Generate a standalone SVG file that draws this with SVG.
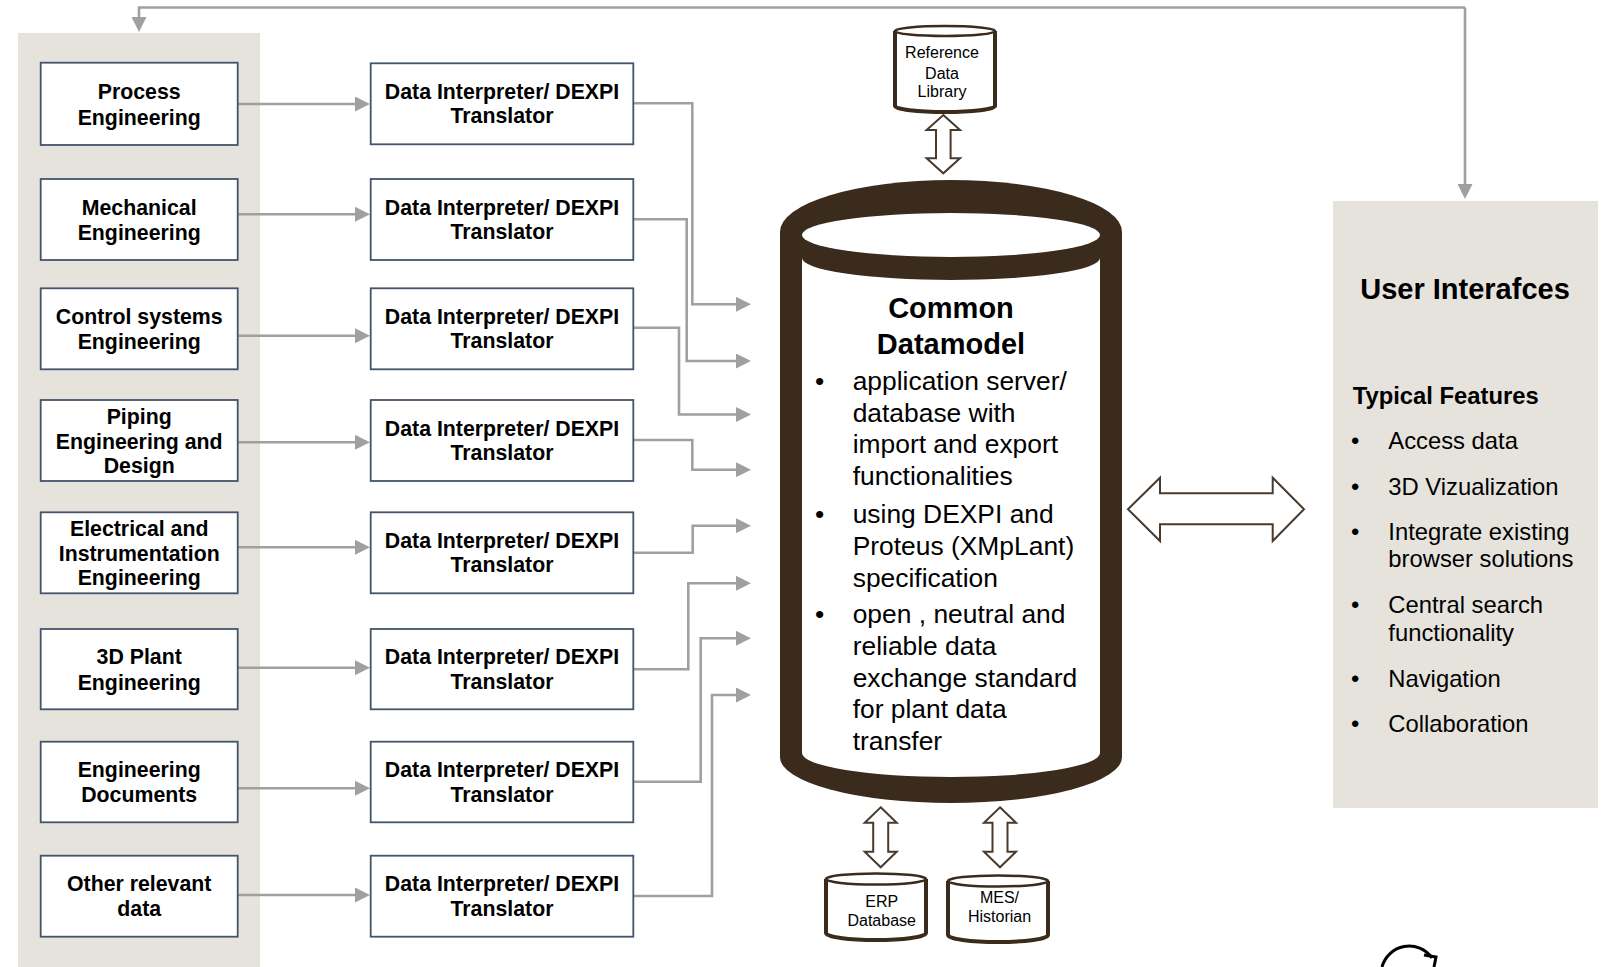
<svg xmlns="http://www.w3.org/2000/svg" width="1601" height="967" viewBox="0 0 1601 967">
<style>
.panel{fill:#e6e3dd}
.box{fill:#fff;stroke:#44546a;stroke-width:1.8}
.lbl{font-family:"Liberation Sans",Arial,sans-serif;font-weight:bold;font-size:21.3px;fill:#000;text-anchor:middle}
.con{fill:none;stroke:#a0a0a0;stroke-width:2.6}
.dbl{fill:#fff;stroke:#4a3a2c;stroke-width:2}
.cyl{fill:#fff;stroke:#3b2b1d;stroke-width:4}
.cyltop{fill:#fff;stroke:#3b2b1d;stroke-width:2.5}
.small{font-family:"Liberation Sans",Arial,sans-serif;font-size:16px;fill:#000;text-anchor:middle}
.body{font-family:"Liberation Sans",Arial,sans-serif;font-size:26.4px;fill:#000}
.ui{font-family:"Liberation Sans",Arial,sans-serif;font-size:23.8px;fill:#000}
</style>
<defs>
<marker id="ah" markerUnits="userSpaceOnUse" markerWidth="15" markerHeight="15" refX="7" refY="7.5" orient="auto">
<path d="M0,0 L15,7.5 L0,15 Z" fill="#a0a0a0"/>
</marker>
</defs>
<rect width="1601" height="967" fill="#fff"/>
<rect class="panel" x="18" y="33" width="242" height="934"/>
<rect class="panel" x="1333" y="201" width="265" height="607"/>

<g id="connectors">
<path class="con" d="M1465,7.5 L139,7.5 L139,24" marker-end="url(#ah)"/>
<path class="con" d="M1465,7.5 L1465,191" marker-end="url(#ah)"/>
<path class="con" d="M238,104 L362,104" marker-end="url(#ah)"/>
<path class="con" d="M238,214.3 L362,214.3" marker-end="url(#ah)"/>
<path class="con" d="M238,335.7 L362,335.7" marker-end="url(#ah)"/>
<path class="con" d="M238,442.3 L362,442.3" marker-end="url(#ah)"/>
<path class="con" d="M238,547.3 L362,547.3" marker-end="url(#ah)"/>
<path class="con" d="M238,667.7 L362,667.7" marker-end="url(#ah)"/>
<path class="con" d="M238,788.3 L362,788.3" marker-end="url(#ah)"/>
<path class="con" d="M238,895 L362,895" marker-end="url(#ah)"/>
<path class="con" d="M633,103.3 L692.3,103.3 L692.3,304.3 L743,304.3" marker-end="url(#ah)"/>
<path class="con" d="M633,219.3 L686.7,219.3 L686.7,361 L743,361" marker-end="url(#ah)"/>
<path class="con" d="M633,327.7 L679,327.7 L679,414.5 L743,414.5" marker-end="url(#ah)"/>
<path class="con" d="M633,440 L692.3,440 L692.3,469.7 L743,469.7" marker-end="url(#ah)"/>
<path class="con" d="M633,552.7 L692.7,552.7 L692.7,525.7 L743,525.7" marker-end="url(#ah)"/>
<path class="con" d="M633,669.3 L688.3,669.3 L688.3,583.3 L743,583.3" marker-end="url(#ah)"/>
<path class="con" d="M633,781.7 L700.7,781.7 L700.7,638.3 L743,638.3" marker-end="url(#ah)"/>
<path class="con" d="M633,896 L712,896 L712,695 L743,695" marker-end="url(#ah)"/>
<path id="ui-arrow" class="dbl" d="M1128,509.3 L1160,477.7 L1160,493.3 L1272.7,493.3 L1272.7,477.7 L1304,509.3 L1272.7,541 L1272.7,524.3 L1160,524.3 L1160,541 Z"/>
<path id="rdl-arrow" class="dbl" d="M943.3,115 L960,130 L950.6,130 L950.6,158.3 L960,158.3 L943.3,173.3 L926.6,158.3 L936,158.3 L936,130 L926.6,130 Z"/>
<path id="erp-arrow" class="dbl" d="M880.7,807.3 L896.7,822.7 L888.2,822.7 L888.2,851.7 L896.7,851.7 L880.7,867.3 L864.7,851.7 L873.2,851.7 L873.2,822.7 L864.7,822.7 Z"/>
<path id="mes-arrow" class="dbl" d="M1000,807.3 L1016,822.7 L1007.5,822.7 L1007.5,851.7 L1016,851.7 L1000,867.3 L984,851.7 L992.5,851.7 L992.5,822.7 L984,822.7 Z"/>
</g>

<g id="src1"><rect class="box" x="40.7" y="62.7" width="197" height="82.3"/><text class="lbl" x="139.2" y="99">Process</text><text class="lbl" x="139.2" y="124.5">Engineering</text></g>
<g id="src2"><rect class="box" x="40.7" y="179" width="197" height="81"/><text class="lbl" x="139.2" y="214.5">Mechanical</text><text class="lbl" x="139.2" y="240">Engineering</text></g>
<g id="src3"><rect class="box" x="40.7" y="288.3" width="197" height="81"/><text class="lbl" x="139.2" y="323.5">Control systems</text><text class="lbl" x="139.2" y="349">Engineering</text></g>
<g id="src4"><rect class="box" x="40.7" y="400" width="197" height="81"/><text class="lbl" x="139.2" y="423.5">Piping</text><text class="lbl" x="139.2" y="448.5">Engineering and</text><text class="lbl" x="139.2" y="473">Design</text></g>
<g id="src5"><rect class="box" x="40.7" y="512.3" width="197" height="81"/><text class="lbl" x="139.2" y="535.8">Electrical and</text><text class="lbl" x="139.2" y="560.8">Instrumentation</text><text class="lbl" x="139.2" y="585.3">Engineering</text></g>
<g id="src6"><rect class="box" x="40.7" y="629" width="197" height="80.3"/><text class="lbl" x="139.2" y="664">3D Plant</text><text class="lbl" x="139.2" y="689.5">Engineering</text></g>
<g id="src7"><rect class="box" x="40.7" y="741.7" width="197" height="80.6"/><text class="lbl" x="139.2" y="777">Engineering</text><text class="lbl" x="139.2" y="802">Documents</text></g>
<g id="src8"><rect class="box" x="40.7" y="855.7" width="197" height="81"/><text class="lbl" x="139.2" y="891">Other relevant</text><text class="lbl" x="139.2" y="916">data</text></g>

<g id="tr1"><rect class="box" x="370.7" y="63.3" width="262.6" height="81"/><text class="lbl" x="502" y="99">Data Interpreter/ DEXPI</text><text class="lbl" x="502" y="123.3">Translator</text></g>
<g id="tr2"><rect class="box" x="370.7" y="179" width="262.6" height="81"/><text class="lbl" x="502" y="214.7">Data Interpreter/ DEXPI</text><text class="lbl" x="502" y="239">Translator</text></g>
<g id="tr3"><rect class="box" x="370.7" y="288.3" width="262.6" height="81"/><text class="lbl" x="502" y="324">Data Interpreter/ DEXPI</text><text class="lbl" x="502" y="348.3">Translator</text></g>
<g id="tr4"><rect class="box" x="370.7" y="400" width="262.6" height="81"/><text class="lbl" x="502" y="435.7">Data Interpreter/ DEXPI</text><text class="lbl" x="502" y="460">Translator</text></g>
<g id="tr5"><rect class="box" x="370.7" y="512.3" width="262.6" height="81"/><text class="lbl" x="502" y="548">Data Interpreter/ DEXPI</text><text class="lbl" x="502" y="572.3">Translator</text></g>
<g id="tr6"><rect class="box" x="370.7" y="629" width="262.6" height="80.3"/><text class="lbl" x="502" y="664.3">Data Interpreter/ DEXPI</text><text class="lbl" x="502" y="688.6">Translator</text></g>
<g id="tr7"><rect class="box" x="370.7" y="741.7" width="262.6" height="80.6"/><text class="lbl" x="502" y="777.2">Data Interpreter/ DEXPI</text><text class="lbl" x="502" y="801.5">Translator</text></g>
<g id="tr8"><rect class="box" x="370.7" y="855.7" width="262.6" height="81"/><text class="lbl" x="502" y="891.4">Data Interpreter/ DEXPI</text><text class="lbl" x="502" y="915.7">Translator</text></g>

<g id="rdl">
<path class="cyl" d="M895,31 L895,106 A50,6 0 0 0 995,106 L995,31"/>
<ellipse class="cyltop" cx="945" cy="31" rx="50" ry="5"/>
<text class="small" x="942" y="58">Reference</text>
<text class="small" x="942" y="78.5">Data</text>
<text class="small" x="942" y="97">Library</text>
</g>

<g id="common-datamodel">
<path d="M780,232 A171,52 0 0 1 1122,232 L1122,757 A171,46 0 0 1 780,757 Z" fill="#3b2b1d"/>
<ellipse cx="951" cy="235" rx="149" ry="22" fill="#fff"/>
<path d="M802,258 A149,22 0 0 0 1100,258 L1100,753 A149,24 0 0 1 802,753 Z" fill="#fff"/>
<text class="lbl" style="font-size:29px" x="951" y="318.3">Common</text>
<text class="lbl" style="font-size:29px" x="951" y="354.3">Datamodel</text>
<text class="body" x="815" y="390">•</text>
<text class="body" x="852.7" y="390">application server/</text>
<text class="body" x="852.7" y="421.7">database with</text>
<text class="body" x="852.7" y="453.3">import and export</text>
<text class="body" x="852.7" y="485">functionalities</text>
<text class="body" x="815" y="523.3">•</text>
<text class="body" x="852.7" y="523.3">using DEXPI and</text>
<text class="body" x="852.7" y="555">Proteus (XMpLant)</text>
<text class="body" x="852.7" y="586.7">specification</text>
<text class="body" x="815" y="623.3">•</text>
<text class="body" x="852.7" y="623.3">open , neutral and</text>
<text class="body" x="852.7" y="655">reliable data</text>
<text class="body" x="852.7" y="686.7">exchange standard</text>
<text class="body" x="852.7" y="718.3">for plant data</text>
<text class="body" x="852.7" y="750">transfer</text>
</g>

<g id="erp">
<path class="cyl" d="M826,879 L826,933 A50,7 0 0 0 926,933 L926,879"/>
<ellipse class="cyltop" cx="876" cy="879" rx="50" ry="5.5"/>
<text class="small" x="881.7" y="906.7">ERP</text>
<text class="small" x="881.7" y="925.7">Database</text>
</g>

<g id="mes">
<path class="cyl" d="M948,881 L948,935 A50,7 0 0 0 1048,935 L1048,881"/>
<ellipse class="cyltop" cx="998" cy="881" rx="50" ry="5.5"/>
<text class="small" x="999.5" y="902.7">MES/</text>
<text class="small" x="999.5" y="921.7">Historian</text>
</g>

<g id="user-interfaces">
<text class="lbl" style="font-size:29px" x="1465" y="299">User Interafces</text>
<text class="ui" style="font-weight:bold" x="1352.7" y="404">Typical Features</text>
<text class="ui" x="1351" y="449.3">•</text><text class="ui" x="1388.3" y="449.3">Access data</text>
<text class="ui" x="1351" y="495">•</text><text class="ui" x="1388.3" y="495">3D Vizualization</text>
<text class="ui" x="1351" y="540">•</text><text class="ui" x="1388.3" y="540">Integrate existing</text>
<text class="ui" x="1388.3" y="566.7">browser solutions</text>
<text class="ui" x="1351" y="612.7">•</text><text class="ui" x="1388.3" y="612.7">Central search</text>
<text class="ui" x="1388.3" y="641">functionality</text>
<text class="ui" x="1351" y="686.7">•</text><text class="ui" x="1388.3" y="686.7">Navigation</text>
<text class="ui" x="1351" y="731.7">•</text><text class="ui" x="1388.3" y="731.7">Collaboration</text>
</g>

<g id="logo">
<path d="M1382,967 A28,28 0 0 1 1432,958" fill="none" stroke="#000" stroke-width="3"/>
<path d="M1424,955 L1436,957 L1434,967" fill="none" stroke="#000" stroke-width="3"/>
</g>
</svg>
